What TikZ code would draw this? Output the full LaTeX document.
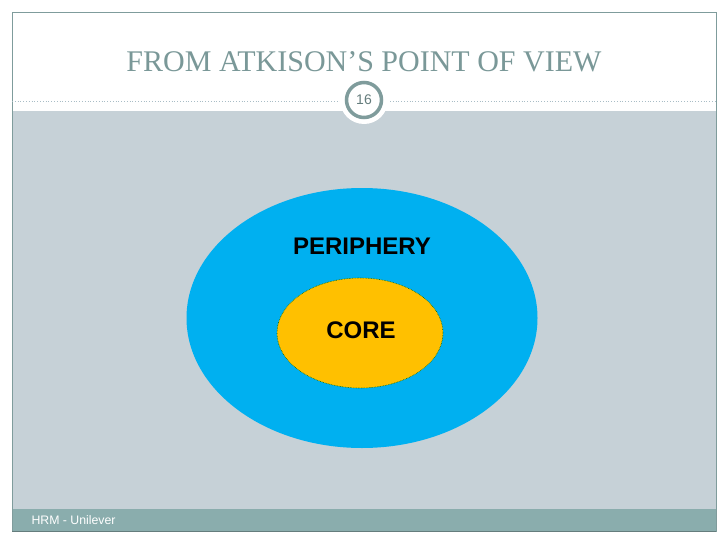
\documentclass[tikz,border=0pt]{standalone}
\usepackage{fontspec}
\setmainfont{Liberation Serif}
\setsansfont{Liberation Sans}
\usetikzlibrary{shapes.geometric}
\definecolor{frameC}{HTML}{7F9C9C}
\definecolor{titleC}{HTML}{7A9898}
\definecolor{panelC}{HTML}{C6D1D7}
\definecolor{footC}{HTML}{8AADAD}
\definecolor{periC}{HTML}{00B0F0}
\definecolor{coreC}{HTML}{FFC000}
\definecolor{dotC}{HTML}{A9BDC6}
\tikzset{
  lbl/.style={font=\sffamily\bfseries\fontsize{24}{28}\selectfont, text=black},
}
\begin{document}
\begin{tikzpicture}[x=1pt,y=-1pt]
\useasboundingbox (0,0) rectangle (728,546);
\fill[white] (0,0) rectangle (728,546);
% panel
\fill[panelC] (12,111) rectangle (716,509);
% footer band
\fill[footC] (12,509) rectangle (716,531);
\draw[frameC, line width=0.8pt] (12,12) rectangle (716,531);
\draw[frameC!80!black, line width=1pt] (12,531) -- (716,531);
% dotted line
\draw[dotC, dotted, line width=0.8pt] (12,101) -- (716,101);
% title
\node[text=titleC, font=\fontsize{30}{36}\selectfont] (title) at (364,62) {FROM ATKISON’S POINT OF VIEW};
% page number badge
\fill[white] (364,100) circle (24);
\node[circle, draw=frameC, line width=3.5pt, fill=white, minimum size=35pt, inner sep=0pt,
  text=frameC!80!black, font=\sffamily\fontsize{14}{16}\selectfont] (num) at (364,100) {16};
% ellipses
\node[ellipse, fill=periC, minimum width=351pt, minimum height=260pt, inner sep=0pt] (peri) at (362,318) {};
\node[ellipse, fill=coreC, draw=black!60!green, densely dotted, line width=0.6pt, minimum width=166pt, minimum height=110pt, inner sep=0pt] (core) at (360,333) {};
\node[lbl] (pl) at (362,246) {PERIPHERY};
\node[lbl] (cl) at (361,330) {CORE};
% footer text
\node[anchor=west, text=white, font=\sffamily\fontsize{12.3}{14}\selectfont] (foot) at (28,520) {HRM - Unilever};
\end{tikzpicture}
\end{document}
